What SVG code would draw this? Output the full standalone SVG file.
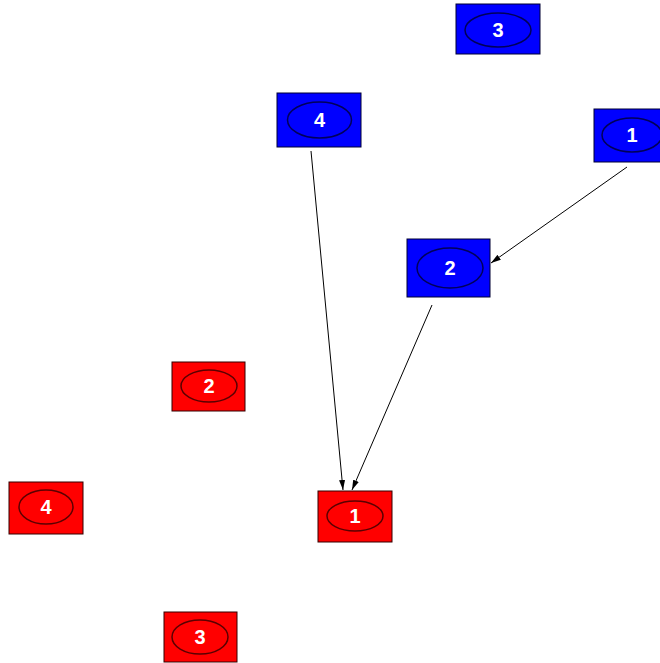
<svg xmlns="http://www.w3.org/2000/svg" width="660" height="663" viewBox="0 0 660 663">
<defs>
<style>
.blue rect{fill:#0000ff;stroke:#000033;stroke-width:1}
.red rect{fill:#ff0000;stroke:#330000;stroke-width:1}
.blue ellipse{fill:none;stroke:#00005a;stroke-width:1.5}
.red ellipse{fill:none;stroke:#5a0000;stroke-width:1.5}
text{font-family:"Liberation Sans",Arial,sans-serif;font-size:20px;font-weight:bold;fill:#ffffff;text-anchor:middle;dominant-baseline:central}
.edge{stroke:#000;stroke-width:1;fill:none;marker-end:url(#ah)}
</style>
<marker id="ah" viewBox="0 0 10 6" refX="10" refY="3" markerWidth="10" markerHeight="6" markerUnits="userSpaceOnUse" orient="auto">
<path d="M0,0 L10,3 L0,6 Z" fill="#000"/>
</marker>
</defs>
<rect width="660" height="663" fill="#fff"/>
<g id="edges">
<line class="edge" x1="311" y1="151" x2="343" y2="490"/>
<line class="edge" x1="432" y1="305" x2="352" y2="490"/>
<line class="edge" x1="627" y1="167" x2="491" y2="263"/>
</g>
<g id="b3" class="blue"><rect x="456" y="4" width="84" height="50"/><ellipse cx="498" cy="30" rx="33" ry="17"/><text x="498" y="30">3</text></g>
<g id="b4" class="blue"><rect x="277" y="93" width="84" height="54"/><ellipse cx="319.5" cy="120" rx="32" ry="18"/><text x="319.5" y="120">4</text></g>
<g id="b1" class="blue"><rect x="594" y="109" width="84" height="53"/><ellipse cx="632" cy="135" rx="30" ry="17"/><text x="632" y="135">1</text></g>
<g id="b2" class="blue"><rect x="407" y="239" width="83" height="58"/><ellipse cx="450" cy="268" rx="33" ry="20"/><text x="450" y="268">2</text></g>
<g id="r2" class="red"><rect x="172" y="362" width="73" height="49"/><ellipse cx="209" cy="386" rx="28" ry="16"/><text x="209" y="386">2</text></g>
<g id="r4" class="red"><rect x="9" y="482" width="74" height="52"/><ellipse cx="46" cy="507" rx="27" ry="17"/><text x="46" y="507">4</text></g>
<g id="r1" class="red"><rect x="318" y="491" width="74" height="51"/><ellipse cx="355" cy="516" rx="28" ry="15"/><text x="355" y="516">1</text></g>
<g id="r3" class="red"><rect x="164" y="612" width="73" height="50"/><ellipse cx="200" cy="637" rx="28" ry="17"/><text x="200" y="637">3</text></g>
</svg>
